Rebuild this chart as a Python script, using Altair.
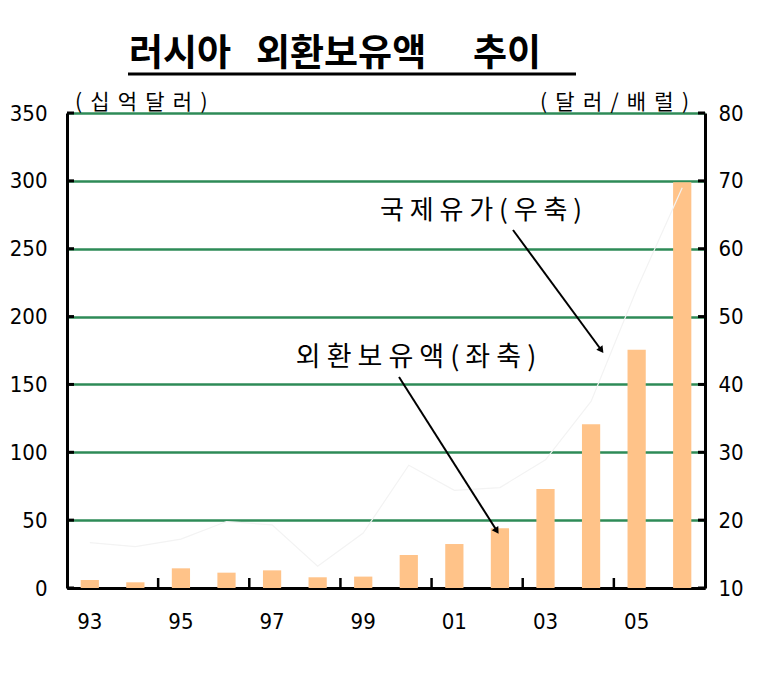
import altair as alt
import pandas as pd

# ---- data ----
years = ["93", "94", "95", "96", "97", "98", "99", "00", "01", "02", "03", "04", "05", "06"]
reserves = [5.9, 4.2, 14.5, 11.3, 13.0, 7.9, 8.4, 24.3, 32.4, 44.0, 73.0, 120.6, 175.6, 299.0]
oil = [16.7, 16.1, 17.2, 19.8, 19.3, 13.2, 18.1, 28.1, 24.4, 24.8, 28.9, 37.5, 54.0, 69.0]
x_label_years = ["93", "95", "97", "99", "01", "03", "05"]
x_tick_years = ["95", "97", "99", "01", "03", "05"]
left_ticks = [0, 50, 100, 150, 200, 250, 300, 350]
right_ticks = [10, 20, 30, 40, 50, 60, 70, 80]

SP = " \u2006"
title_words = ["러시아", "외환보유액", "추이"]
left_unit = SP.join(["(", "십", "억", "달", "러", ")"])
right_unit = SP.join(["(", "달", "러", "/", "배", "럴", ")"])
oil_note = " ".join(["국", "제", "유", "가", "(", "우", "축", ")"])
res_note = " ".join(["외", "환", "보", "유", "액", "(", "좌", "축", ")"])

df = pd.DataFrame({"year": years, "reserve": reserves, "oil": oil})
df_xt = pd.DataFrame({"year": x_tick_years})
df_lt = pd.DataFrame({"v": left_ticks})
df_rt = pd.DataFrame({"v": right_ticks})

NUM_FONT = "Liberation Sans Narrow, Noto Sans Condensed, DejaVu Sans Condensed, Liberation Sans, sans-serif"
KR_FONT = "Noto Sans CJK KR, Noto Sans, sans-serif"
W, H = 638, 475
BAR = "#FFC389"
GRID = "#2E8B57"
NUM_SIZE = 22
TICK = "black"

x_band = alt.Scale(domain=years, paddingInner=0.6, paddingOuter=0.3)
x_full = alt.Scale(domain=years, paddingInner=0, paddingOuter=0)
y_left = alt.Scale(domain=[0, 350], nice=False, zero=True)
y_right = alt.Scale(domain=[10, 80], nice=False, zero=False)

bars = alt.Chart(df).mark_bar(color=BAR).encode(
    x=alt.X("year:N", sort=years, scale=x_band,
            axis=alt.Axis(values=x_label_years, labelAngle=0, tickSize=0, ticks=False,
                          domainColor="black", domainWidth=3, labelFont=NUM_FONT,
                          labelFontSize=NUM_SIZE, labelColor="black", labelPadding=23,
                          title=None, grid=False)),
    y=alt.Y("reserve:Q", scale=y_left,
            axis=alt.Axis(orient="left", values=left_ticks, ticks=False, tickSize=0,
                          labelPadding=20, domainColor="black", domainWidth=3,
                          grid=True,
                          gridColor=alt.condition("datum.value == 0", alt.value("black"), alt.value(GRID)),
                          gridWidth=2.5, labelFont=NUM_FONT, labelFontSize=NUM_SIZE,
                          labelColor="black", title=None)),
)

line = alt.Chart(df).mark_line(color="#f3f3f3", strokeWidth=1.2).encode(
    x=alt.X("year:N", sort=years, scale=x_band, axis=None),
    y=alt.Y("oil:Q", scale=y_right,
            axis=alt.Axis(orient="right", values=right_ticks, ticks=False, tickSize=0,
                          labelPadding=13, domainColor="black", domainWidth=3,
                          grid=False, labelFont=NUM_FONT, labelFontSize=NUM_SIZE,
                          labelColor="black", title=None)),
)

# inward-pointing tick marks, placed through the same scales
ticks_x = alt.Chart(df_xt).mark_rule(color=TICK, strokeWidth=2.5).encode(
    x=alt.X("year:N", sort=years, scale=x_full, axis=None, bandPosition=0),
    y=alt.value(H - 10), y2=alt.value(H))
ticks_l = alt.Chart(df_lt).mark_rule(color=TICK, strokeWidth=3).encode(
    y=alt.Y("v:Q", scale=y_left, axis=None), x=alt.value(0), x2=alt.value(7))
ticks_r = alt.Chart(df_rt).mark_rule(color=TICK, strokeWidth=3).encode(
    y=alt.Y("v:Q", scale=y_right, axis=None), x=alt.value(W - 7), x2=alt.value(W))

one = alt.Data(values=[{"a": 1}])


def txt(s, x, y, size, weight="normal", align="center", baseline="middle"):
    return alt.Chart(one).mark_text(
        text=s, font=KR_FONT, fontSize=size, fontWeight=weight, align=align,
        baseline=baseline, color="black"
    ).encode(x=alt.value(x), y=alt.value(y))


t1 = txt(title_words[0], 62, -47, 37, weight="bold", align="left", baseline="alphabetic")
t2 = txt(title_words[1], 189, -47, 37, weight="bold", align="left", baseline="alphabetic")
t3 = txt(title_words[2], 406, -47, 37, weight="bold", align="left", baseline="alphabetic")
underline = alt.Chart(one).mark_rule(color="black", strokeWidth=3).encode(
    x=alt.value(61), x2=alt.value(509), y=alt.value(-39))
lunit = txt(left_unit, 8, -4, 21, align="left", baseline="alphabetic")
runit = txt(right_unit, 622, -4, 21, align="right", baseline="alphabetic")
note1 = txt(oil_note, 414, 98, 26)
note2 = txt(res_note, 349, 245, 27)

arrow1 = alt.Chart(one).mark_rule(color="black", strokeWidth=2).encode(
    x=alt.value(446), y=alt.value(117), x2=alt.value(535), y2=alt.value(238))
head1 = alt.Chart(one).mark_point(shape="triangle-up", filled=True, size=60, angle=143.6,
                                  color="black", opacity=1).encode(
    x=alt.value(534.4), y=alt.value(237.2))
arrow2 = alt.Chart(one).mark_rule(color="black", strokeWidth=2).encode(
    x=alt.value(332), y=alt.value(264), x2=alt.value(430), y2=alt.value(418))
head2 = alt.Chart(one).mark_point(shape="triangle-up", filled=True, size=60, angle=147.6,
                                  color="black", opacity=1).encode(
    x=alt.value(429.8), y=alt.value(417.9))

chart = alt.layer(
    bars, line, ticks_x, ticks_l, ticks_r,
    t1, t2, t3, underline, lunit, runit, note1, note2, arrow1, head1, arrow2, head2
).resolve_scale(x="independent", y="independent").properties(
    width=W, height=H,
    autosize=alt.AutoSizeParams(type="none"),
    padding={"left": 59, "top": 105, "right": 60, "bottom": 70},
    background="white",
).configure_view(stroke=None)

chart.save("out.html", embed_options={"renderer": "svg", "actions": False})
